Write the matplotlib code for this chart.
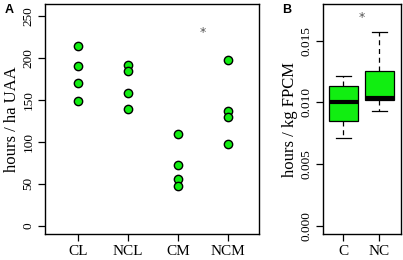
import matplotlib.pyplot as plt

# panel A: hours per ha UAA, four farm groups
groups = ["CL", "NCL", "CM", "NCM"]
hours_ha = [
    [214, 190, 170, 148],
    [191, 184, 158, 139],
    [109, 72, 56, 48],
    [197, 137, 130, 98],
]

# panel B: hours per kg FPCM, box stats
box_names = ["C", "NC"]
whislo = [0.00712, 0.00927]
q1 = [0.00849, 0.01016]
med = [0.01006, 0.01040]
q3 = [0.01131, 0.01258]
whishi = [0.01218, 0.01567]

GREEN = "#11ee11"
serif = "Liberation Serif"

fig = plt.figure(figsize=(4.03, 2.60), dpi=100)
axA = fig.add_axes([45 / 403, 25.7 / 260, 214 / 403, 230.3 / 260])
axB = fig.add_axes([322.7 / 403, 25.7 / 260, 78 / 403, 230.3 / 260])

for i, vals in enumerate(hours_ha):
    axA.plot([i + 1] * len(vals), vals, "o", ms=6, mfc=GREEN, mec="black",
             mew=1.0, ls="none")
axA.set_xlim(0.33, 4.63)
axA.set_ylim(-10, 264)
axA.set_xticks(range(1, len(groups) + 1))
axA.set_xticklabels(groups)
axA.set_yticks([0, 50, 100, 150, 200, 250])
axA.set_ylabel("hours / ha UAA", family=serif, fontsize=12, labelpad=2)
axA.text(3.5, 230, "*", color="#555555", ha="center", va="center", fontsize=9)

stats = []
for i in range(len(box_names)):
    stats.append(dict(med=med[i], q1=q1[i], q3=q3[i], whislo=whislo[i],
                      whishi=whishi[i], fliers=[], label=box_names[i]))
axB.bxp(stats, widths=0.8, patch_artist=True,
        boxprops=dict(facecolor=GREEN, edgecolor="black", lw=0.9),
        medianprops=dict(color="black", lw=3, solid_capstyle="butt"),
        whiskerprops=dict(color="black", ls=(0, (4, 3)), lw=0.9),
        capprops=dict(color="black", lw=0.9), capwidths=0.4)
axB.set_xlim(0.43, 2.59)
axB.set_ylim(-0.00067, 0.01797)
axB.set_yticks([0.0, 0.005, 0.010, 0.015])
axB.set_yticklabels(["0.000", "0.005", "0.010", "0.015"])
axB.set_ylabel("hours / kg FPCM", family=serif, fontsize=12, labelpad=2)
axB.text(1.5, 0.0169, "*", color="#555555", ha="center", va="center", fontsize=9)

for ax in (axA, axB):
    for s in ax.spines.values():
        s.set_linewidth(1.0)
    ax.tick_params(axis="both", direction="out", length=5, width=0.9)
    ax.tick_params(axis="x", labelsize=11, pad=2.5)
    ax.tick_params(axis="y", labelsize=9.5, pad=2.5, labelrotation=90)
    for lab in ax.get_xticklabels() + ax.get_yticklabels():
        lab.set_family(serif)
    for lab in ax.get_yticklabels():
        lab.set_va("center")

fig.text(5 / 403, 1 - 10 / 260, "A", fontweight="bold", fontsize=9,
         family="Liberation Sans", va="center", ha="left")
fig.text(282 / 403, 1 - 10 / 260, "B", fontweight="bold", fontsize=9,
         family="Liberation Sans", va="center", ha="left")

fig.savefig("out.png", dpi=100)
